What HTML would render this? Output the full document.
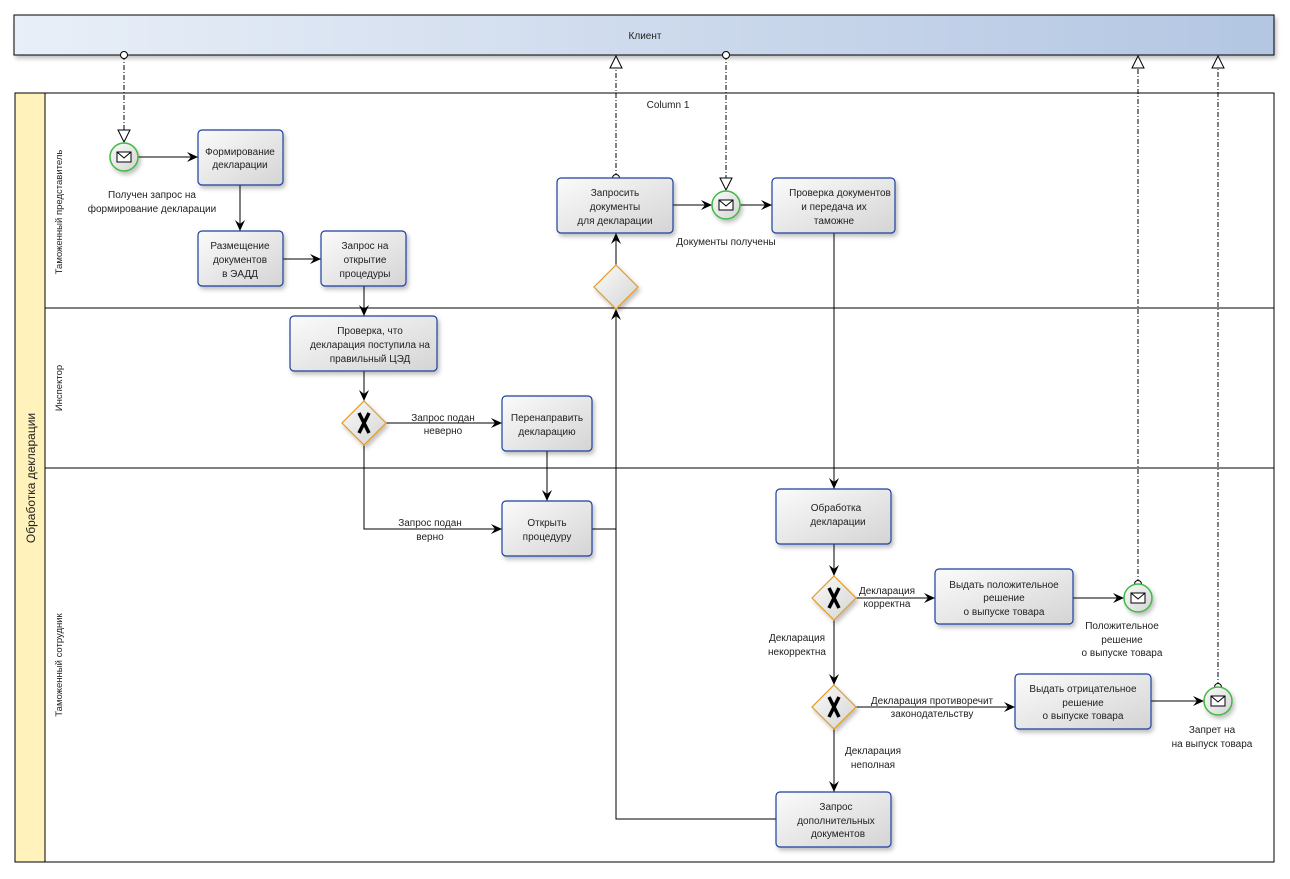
<!DOCTYPE html>
<html><head><meta charset="utf-8"><style>
html,body{margin:0;padding:0;background:#fff;}
svg{display:block;font-family:"Liberation Sans","DejaVu Sans",sans-serif;}
text{font-size:10px;fill:#222;}
</style></head><body>
<svg width="1290" height="879" viewBox="0 0 1290 879" xmlns="http://www.w3.org/2000/svg">
<defs>
<linearGradient id="cl" x1="0" x2="1" y1="0" y2="0"><stop offset="0" stop-color="#e9eff8"/><stop offset="1" stop-color="#b3c6e2"/></linearGradient>
<linearGradient id="tk" x1="0" x2="1" y1="0" y2="1"><stop offset="0" stop-color="#fbfbfb"/><stop offset="1" stop-color="#d4d4d4"/></linearGradient>
<filter id="sh" x="-10%" y="-10%" width="130%" height="140%"><feDropShadow dx="2" dy="3" stdDeviation="2" flood-color="#000" flood-opacity="0.25"/></filter>
<marker id="ar" markerWidth="12" markerHeight="10" refX="11" refY="5" orient="auto" markerUnits="userSpaceOnUse"><path d="M0,0 L11,5 L0,10 L4,5 Z" fill="#000"/></marker>
<marker id="oa" markerWidth="14" markerHeight="18" refX="13" refY="7" orient="auto" markerUnits="userSpaceOnUse"><path d="M1,1 L13,7 L1,13 Z" fill="#fff" stroke="#000"/></marker>
<marker id="oc" markerWidth="10" markerHeight="10" refX="4" refY="4" orient="auto" markerUnits="userSpaceOnUse"><circle cx="4" cy="4" r="3.5" fill="#fff" stroke="#000"/></marker>
<g id="env"><rect x="-7" y="-5" width="14" height="10" fill="#fff" stroke="#000"/><path d="M-7,-5 L0,1 L7,-5" fill="none" stroke="#000"/></g>
</defs>

<!-- Client -->
<rect x="14" y="15" width="1260" height="40" fill="url(#cl)" stroke="#000" filter="url(#sh)"/>
<text x="645" y="39" text-anchor="middle">Клиент</text>

<!-- Pool -->
<rect x="15" y="93" width="1259" height="769" fill="#fff" stroke="#000"/>
<rect x="15" y="93" width="30" height="769" fill="#fff2bb" stroke="#000"/>
<text transform="translate(35,478) rotate(-90)" text-anchor="middle" style="font-size:12px">Обработка декларации</text>
<line x1="45" y1="308" x2="1274" y2="308" stroke="#000"/>
<line x1="45" y1="468" x2="1274" y2="468" stroke="#000"/>
<text transform="translate(62,212) rotate(-90)" text-anchor="middle" style="font-size:9.5px">Таможенный представитель</text>
<text transform="translate(62,388) rotate(-90)" text-anchor="middle" style="font-size:9.5px">Инспектор</text>
<text transform="translate(62,665) rotate(-90)" text-anchor="middle" style="font-size:9.5px">Таможенный сотрудник</text>
<text x="668" y="108" text-anchor="middle">Column 1</text>

<!-- dashed message flows -->
<g stroke="#000" fill="none" stroke-dasharray="5,2,1,2">
<line x1="124" y1="55" x2="124" y2="142" marker-start="url(#oc)" marker-end="url(#oa)"/>
<line x1="616" y1="178" x2="616" y2="56" marker-start="url(#oc)" marker-end="url(#oa)"/>
<line x1="726" y1="55" x2="726" y2="190" marker-start="url(#oc)" marker-end="url(#oa)"/>
<line x1="1138" y1="584" x2="1138" y2="56" marker-start="url(#oc)" marker-end="url(#oa)"/>
<line x1="1218" y1="687" x2="1218" y2="56" marker-start="url(#oc)" marker-end="url(#oa)"/>
</g>

<!-- sequence flows -->
<g stroke="#000" fill="none" stroke-width="1">
<line x1="138" y1="157" x2="198" y2="157" marker-end="url(#ar)"/>
<line x1="240" y1="185" x2="240" y2="231" marker-end="url(#ar)"/>
<line x1="283" y1="259" x2="321" y2="259" marker-end="url(#ar)"/>
<line x1="364" y1="286" x2="364" y2="316" marker-end="url(#ar)"/>
<line x1="364" y1="371" x2="364" y2="401" marker-end="url(#ar)"/>
<line x1="386" y1="423" x2="502" y2="423" marker-end="url(#ar)"/>
<polyline points="364,445 364,529 502,529" marker-end="url(#ar)"/>
<line x1="547" y1="451" x2="547" y2="501" marker-end="url(#ar)"/>
<polyline points="592,529 616,529"/>
<polyline points="776,819 616,819 616,309" marker-end="url(#ar)"/>
<line x1="616" y1="265" x2="616" y2="233" marker-end="url(#ar)"/>
<line x1="673" y1="205" x2="712" y2="205" marker-end="url(#ar)"/>
<line x1="740" y1="205" x2="772" y2="205" marker-end="url(#ar)"/>
<line x1="834" y1="233" x2="834" y2="489" marker-end="url(#ar)"/>
<line x1="834" y1="544" x2="834" y2="576" marker-end="url(#ar)"/>
<line x1="856" y1="598" x2="935" y2="598" marker-end="url(#ar)"/>
<line x1="834" y1="620" x2="834" y2="685" marker-end="url(#ar)"/>
<line x1="856" y1="707" x2="1015" y2="707" marker-end="url(#ar)"/>
<line x1="834" y1="729" x2="834" y2="792" marker-end="url(#ar)"/>
<line x1="1073" y1="598" x2="1124" y2="598" marker-end="url(#ar)"/>
<line x1="1151" y1="701" x2="1204" y2="701" marker-end="url(#ar)"/>
</g>

<!-- tasks -->
<g fill="url(#tk)" stroke="#1f3f9f" stroke-width="1.2" filter="url(#sh)">
<rect x="198" y="130" width="85" height="55" rx="4"/>
<rect x="198" y="231" width="85" height="55" rx="4"/>
<rect x="321" y="231" width="85" height="55" rx="4"/>
<rect x="290" y="316" width="147" height="55" rx="4"/>
<rect x="502" y="396" width="90" height="55" rx="4"/>
<rect x="502" y="501" width="90" height="55" rx="4"/>
<rect x="557" y="178" width="116" height="55" rx="4"/>
<rect x="772" y="178" width="123" height="55" rx="4"/>
<rect x="776" y="489" width="115" height="55" rx="4"/>
<rect x="935" y="569" width="138" height="55" rx="4"/>
<rect x="1015" y="674" width="136" height="55" rx="4"/>
<rect x="776" y="792" width="115" height="55" rx="4"/>
</g>
<g text-anchor="middle">
<text x="240" y="155">Формирование</text><text x="240" y="168">декларации</text>
<text x="240" y="249">Размещение</text><text x="240" y="263">документов</text><text x="240" y="277">в ЭАДД</text>
<text x="365" y="249">Запрос на</text><text x="365" y="263">открытие</text><text x="365" y="277">процедуры</text>
<text x="370" y="334">Проверка, что</text><text x="370" y="348">декларация поступила на</text><text x="370" y="362">правильный ЦЭД</text>
<text x="547" y="421">Перенаправить</text><text x="547" y="435">декларацию</text>
<text x="547" y="526">Открыть</text><text x="547" y="540">процедуру</text>
<text x="615" y="196">Запросить</text><text x="615" y="210">документы</text><text x="615" y="224">для декларации</text>
<text x="840" y="196">Проверка документов</text><text x="834" y="210">и передача их</text><text x="834" y="224">таможне</text>
<text x="836" y="511">Обработка</text><text x="838" y="525">декларации</text>
<text x="1004" y="588">Выдать положительное</text><text x="1004" y="601">решение</text><text x="1004" y="615">о выпуске товара</text>
<text x="1083" y="692">Выдать отрицательное</text><text x="1083" y="706">решение</text><text x="1083" y="719">о выпуске товара</text>
<text x="836" y="810">Запрос</text><text x="836" y="824">дополнительных</text><text x="838" y="837">документов</text>
</g>

<!-- events -->
<g fill="url(#tk)" stroke="#3fb93f" stroke-width="1.5" filter="url(#sh)">
<circle cx="124" cy="157" r="14"/>
<circle cx="726" cy="205" r="14"/>
<circle cx="1138" cy="598" r="14"/>
<circle cx="1218" cy="701" r="14"/>
</g>
<use href="#env" x="124" y="157"/><use href="#env" x="726" y="205"/><use href="#env" x="1138" y="598"/><use href="#env" x="1218" y="701"/>

<!-- gateways -->
<g fill="url(#tk)" stroke="#e49b1c" stroke-width="1.2" filter="url(#sh)">
<polygon points="616,265 638,287 616,309 594,287"/>
<polygon points="364,401 386,423 364,445 342,423"/>
<polygon points="834,576 856,598 834,620 812,598"/>
<polygon points="834,685 856,707 834,729 812,707"/>
</g>
<g stroke="#000" stroke-width="3.5" fill="none">
<path d="M359,413 L369,433 M369,413 L359,433"/>
<path d="M829,588 L839,608 M839,588 L829,608"/>
<path d="M829,697 L839,717 M839,697 L829,717"/>
</g>

<!-- labels -->
<g text-anchor="middle">
<text x="152" y="198">Получен запрос на</text><text x="152" y="212">формирование декларации</text>
<text x="726" y="245">Документы получены</text>
<text x="1122" y="629">Положительное</text><text x="1122" y="643">решение</text><text x="1122" y="656">о выпуске товара</text>
<text x="1212" y="733">Запрет на</text><text x="1212" y="747">на выпуск товара</text>
<text x="443" y="421">Запрос подан</text><text x="443" y="434">неверно</text>
<text x="430" y="526">Запрос подан</text><text x="430" y="540">верно</text>
<text x="887" y="594">Декларация</text><text x="887" y="607">корректна</text>
<text x="797" y="641">Декларация</text><text x="797" y="655">некорректна</text>
<text x="932" y="704">Декларация противоречит</text><text x="932" y="717">законодательству</text>
<text x="873" y="754">Декларация</text><text x="873" y="768">неполная</text>
</g>
</svg>
</body></html>
